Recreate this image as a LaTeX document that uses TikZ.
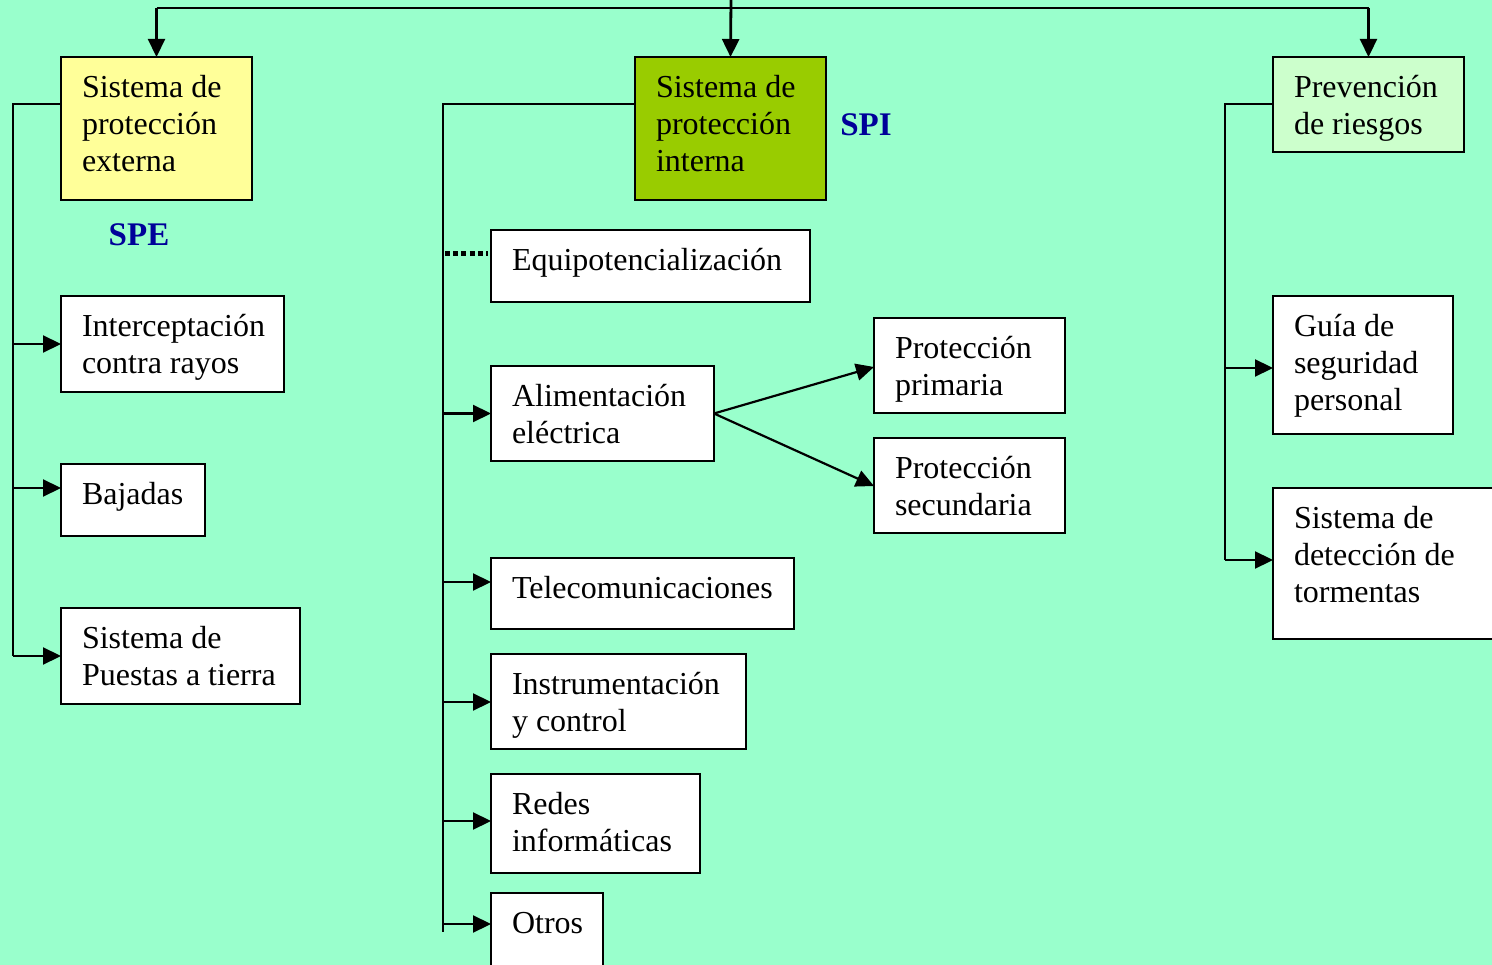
\documentclass[tikz,border=0pt]{standalone}
\usepackage{fontspec}
\setmainfont{Liberation Serif}
\usetikzlibrary{arrows.meta}
\definecolor{bg}{HTML}{99FFCC}
\definecolor{ylw}{HTML}{FFFF99}
\definecolor{olive}{HTML}{99CC00}
\definecolor{pale}{HTML}{CCFFCC}
\definecolor{navyb}{HTML}{000099}
% box text: width, height, lines (top anchored, first baseline 40.5pt below the top)
\newcommand\bxt[3]{\parbox[c][#2][t]{#1}{\raggedright\lineskiplimit=-100pt\rule{0pt}{40.5pt}#3}}
\begin{document}
\begin{tikzpicture}[x=1pt,y=-1pt,
  bx/.style={draw=black,line width=2pt,fill=white,rectangle,anchor=north west,
    outer sep=0pt,inner xsep=21pt,inner ysep=0pt,
    font=\fontsize{32}{37}\selectfont},
  conn/.style={line width=2.2pt},
  arr/.style={line width=2.2pt,-{Triangle[length=18pt,width=17pt]}},
  dotl/.style={line width=5pt,dash pattern=on 5pt off 3.2pt},
  lbl/.style={text=navyb,font=\fontsize{33}{38}\selectfont\bfseries,inner sep=0pt}]
\useasboundingbox (0,0) rectangle (1492,965);
\clip (0,0) rectangle (1492,965);
\fill[bg] (0,0) rectangle (1492,965);

% top boxes
\node[bx,fill=ylw] (spe) at (61,57) {\bxt{149pt}{143pt}{Sistema~de\\protección\\externa}};
\node[bx,fill=olive] (spi) at (635,57) {\bxt{149pt}{143pt}{Sistema~de\\protección\\interna}};
\node[bx,fill=pale] (pr) at (1273,57) {\bxt{149pt}{95pt}{Prevención\\de~riesgos}};
\node[lbl] (spel) at (139,235) {SPE};
\node[lbl] (spil) at (866,125) {SPI};

% left column
\node[bx] (inter) at (61,296) {\bxt{181pt}{96pt}{Interceptación\\contra~rayos}};
\node[bx] (baj) at (61,464) {\bxt{102pt}{72pt}{Bajadas}};
\node[bx] (pat) at (61,608) {\bxt{197pt}{96pt}{Sistema~de\\Puestas~a~tierra}};

% middle column
\node[bx] (equi) at (491,230) {\bxt{277pt}{72pt}{Equipotencialización}};
\node[bx] (alim) at (491,366) {\bxt{181pt}{95pt}{Alimentación\\eléctrica}};
\node[bx] (pp) at (874,318) {\bxt{149pt}{95pt}{Protección\\primaria}};
\node[bx] (ps) at (874,438) {\bxt{149pt}{95pt}{Protección\\secundaria}};
\node[bx] (tele) at (491,558) {\bxt{261pt}{71pt}{Telecomunicaciones}};
\node[bx] (inst) at (491,654) {\bxt{213pt}{95pt}{Instrumentación\\y~control}};
\node[bx] (redes) at (491,774) {\bxt{167pt}{99pt}{Redes\\informáticas}};
\node[bx] (otros) at (491,893) {\bxt{70pt}{95pt}{Otros}};

% right column
\node[bx] (guia) at (1273,296) {\bxt{138pt}{138pt}{Guía~de\\seguridad\\personal}};
\node[bx] (det) at (1273,488) {\bxt{198pt}{151pt}{Sistema~de\\detección~de\\tormentas}};

% top connectors
\coordinate (top) at (731,0);
\coordinate (bar) at (731,8);
\draw[conn] (spe.north |- bar) -- (pr.north |- bar);
\draw[arr] (spe.north |- bar) -- (spe.north);
\draw[arr] (pr.north |- bar) -- (pr.north);
\draw[arr,line width=2.8pt] (top) -- (spi.north);

% left trunk
\coordinate (lt) at (13,104);
\draw[conn] (spe.west |- lt) -- (lt) -- (lt |- pat.west);
\draw[arr] (lt |- inter.west) -- (inter.west);
\draw[arr] (lt |- 0,488) -- (baj.west |- 0,488);
\draw[arr] (lt |- pat.west) -- (pat.west);

% middle trunk
\coordinate (mt) at (443,104);
\coordinate (mb) at (443,932);
\draw[conn] (spi.west |- mt) -- (mt) -- (mb);
\draw[dotl] ([xshift=2pt]mt |- 0,254) -- ([xshift=-3pt]equi.west |- 0,254);
\draw[arr] (mt |- alim.west) -- (alim.west);
\draw[arr] (mt |- 0,582) -- (tele.west |- 0,582);
\draw[arr] (mt |- 0,702) -- (inst.west |- 0,702);
\draw[arr] (mt |- 0,821) -- (redes.west |- 0,821);
\draw[arr] (mt |- 0,924) -- (otros.west |- 0,924);
\draw[arr] (alim.east) -- (pp.west |- 0,367);
\draw[arr] (alim.east) -- (ps.west |- 0,486);

% right trunk
\coordinate (rt) at (1225,104);
\draw[conn] (pr.west |- rt) -- (rt) -- (rt |- 0,560);
\draw[arr] (rt |- 0,368) -- (guia.west |- 0,368);
\draw[arr] (rt |- 0,560) -- (det.west |- 0,560);
\end{tikzpicture}
\end{document}
